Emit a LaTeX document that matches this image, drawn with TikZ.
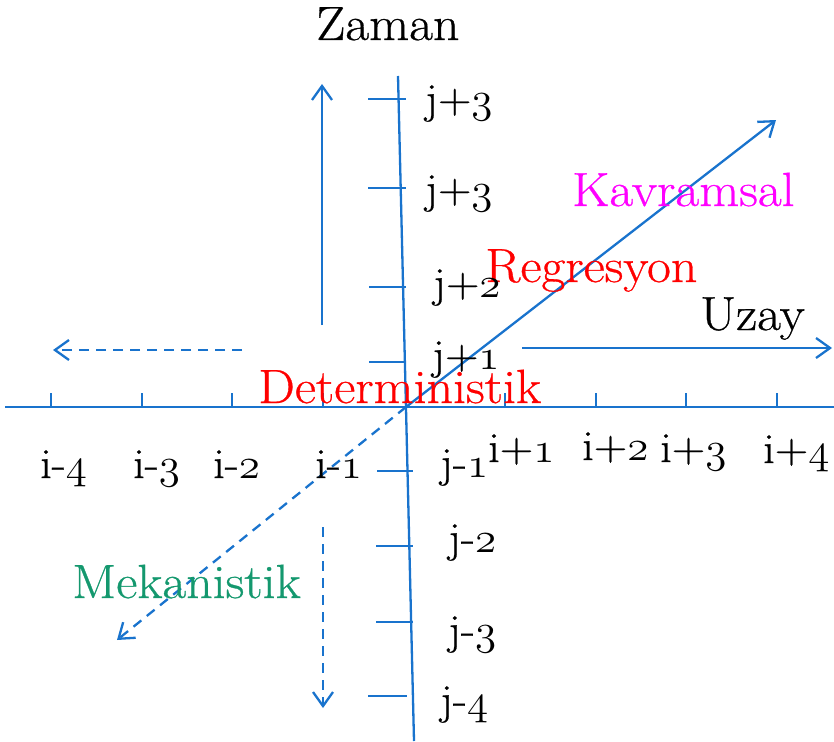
\RequirePackage{fix-cm}
\documentclass[tikz,border=0pt]{standalone}
\usepackage{fontspec}
\setmainfont{Latin Modern Roman}[FakeStretch=1.08,FakeBold=0.6]
\usetikzlibrary{arrows.meta}
\definecolor{axisblue}{RGB}{25,115,205}
\definecolor{mekgreen}{RGB}{20,152,110}
\definecolor{kavmag}{RGB}{255,0,255}
\definecolor{detred}{RGB}{255,0,0}
% old-style figures taken from the math italic font
\newcommand{\osn}[1]{{\usefont{OML}{cmm}{m}{it}#1}}
\begin{document}
\begin{tikzpicture}[x=1pt,y=-1pt,
  axis/.style={draw=axisblue,line width=2.3pt},
  dashline/.style={axis,dash pattern=on 10pt off 7pt},
  tipped/.style={-{Straight Barb[length=14pt,width=20pt]}},
  lbl/.style={anchor=base west,inner sep=0pt,font=\fontsize{48}{52}\selectfont},
  tag/.style={lbl,text=black},
  ticklbl/.style={anchor=base west,inner sep=0pt,text=black,
                  font=\fontsize{43}{47}\selectfont},
]
\useasboundingbox (0,0) rectangle (834,741);

% axes
\coordinate (O) at (406,407);
\coordinate (xL) at (5,407);
\coordinate (xR) at (834,407);
\coordinate (yT) at (398,76);
\coordinate (yB) at (414,741);
\draw[axis] (xL) -- (xR);
\draw[axis] (yT) -- (yB);

% ticks on the horizontal axis
\foreach \x in {51,142,232,323,505,596,686,777}
  \draw[axis] (\x,407) -- (\x,393);

% ticks on the vertical axis
\foreach \y/\a/\b in {99/368/406,188/368/406,287/369/406,362/369/406,
                      471/377/413,546/376/413,622/376/413,696/368/407}
  \draw[axis] (\a,\y) -- (\b,\y);

% direction arrows
\coordinate (upS) at (322,325);  \coordinate (upE) at (322,84);
\coordinate (dnS) at (323,527);  \coordinate (dnE) at (323,708);
\coordinate (lfS) at (242,350);  \coordinate (lfE) at (53,350);
\coordinate (rtS) at (522,348);  \coordinate (rtE) at (832,348);
\coordinate (dgE) at (776,120);  \coordinate (dgW) at (117,640);
\draw[axis,tipped] (upS) -- (upE);
\draw[dashline,tipped] (dnS) -- (dnE);
\draw[dashline,tipped] (lfS) -- (lfE);
\draw[axis,tipped] (rtS) -- (rtE);
\draw[axis,tipped] (O) -- (dgE);
\draw[dashline,tipped] (O) -- (dgW);

% axis titles and category labels
\node[tag] (zaman) at (316,40) {Zaman};
\node[tag] (uzay) at (700,330) {Uzay};
\node[lbl,text=kavmag] (kavr) at (572,206) {Kavramsal};
\node[lbl,text=detred] (regr) at (485,282) {Regresyon};
\node[lbl,text=detred] (det) at (258,403) {Deterministik};
\node[lbl,text=mekgreen] (mek) at (72,598) {Mekanistik};

% horizontal tick labels
\node[ticklbl] (im4) at (40,478) {i-\osn{4}};
\node[ticklbl] (im3) at (133,478) {i-\osn{3}};
\node[ticklbl] (im2) at (213,478) {i-\osn{2}};
\node[ticklbl] (im1) at (315,478) {i-\osn{1}};
\node[ticklbl] (ip1) at (488,462) {i+\osn{1}};
\node[ticklbl] (ip2) at (582,460) {i+\osn{2}};
\node[ticklbl] (ip3) at (660,462) {i+\osn{3}};
\node[ticklbl] (ip4) at (763,463) {i+\osn{4}};

% vertical tick labels
\node[ticklbl] (jp3a) at (425,113) {j+\osn{3}};
\node[ticklbl] (jp3b) at (425,203) {j+\osn{3}};
\node[ticklbl] (jp2) at (433,297) {j+\osn{2}};
\node[ticklbl] (jp1) at (432,369) {j+\osn{1}};
\node[ticklbl] (jm1) at (440,477) {j-\osn{1}};
\node[ticklbl] (jm2) at (448,552) {j-\osn{2}};
\node[ticklbl] (jm3) at (448,644) {j-\osn{3}};
\node[ticklbl] (jm4) at (440,714) {j-\osn{4}};
\end{tikzpicture}
\end{document}
